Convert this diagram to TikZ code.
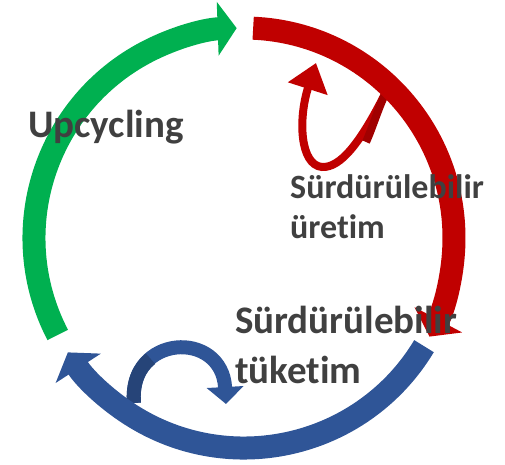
\documentclass[tikz,border=0pt]{standalone}
\usepackage{fontspec}
\setmainfont{Carlito}[Ligatures=NoCommon]
\usepackage{tikz}
\usetikzlibrary{arrows.meta}
\definecolor{cycgreen}{HTML}{00B050}
\definecolor{cycred}{HTML}{C00000}
\definecolor{cycblue}{HTML}{2F5597}
\definecolor{darkred}{HTML}{A00000}
\definecolor{darkblue}{HTML}{264478}
\definecolor{txtgray}{HTML}{404040}
\tikzstyle{bigarc}=[line width=23pt,-{Triangle[length=19pt,width=53pt]}]
\tikzstyle{loopred}=[line width=8pt,cycred,-{Triangle[length=27pt,width=40pt]}]
\tikzstyle{loopblue}=[line width=14pt,cycblue,-{Triangle[length=17pt,width=36pt]}]
\tikzstyle{txt}=[txtgray,inner sep=0pt,anchor=base west,align=left]

\begin{document}
\begin{tikzpicture}[x=1pt,y=1pt]
      \useasboundingbox (0,0) rectangle (505,464);
      \coordinate (c) at (244,226);
      % small loops inside the ring
      \coordinate (rs) at (386,372);
      \coordinate (rt) at (316,401);
      \draw[loopred] (rs) .. controls (360,320) and (340,296) .. (322,297)
            .. controls (300,299) and (298,345) .. (rt);
      \draw[line width=8pt,darkred] (rs) .. controls (378,355) and (372,335) .. (366,322);
      \coordinate (bs) at (134,61);
      \coordinate (bt) at (226,60);
      \draw[loopblue] (bs) .. controls (128,130) and (222,135) .. (bt);
      \draw[line width=14pt,darkblue] (bs) .. controls (132.2,81.7) and (139.4,96.6) .. (150.5,105.3);
      % the ring
      \draw[bigarc,cycgreen] ([shift={(207.5:210)}]c) arc[start angle=207.5,end angle=92,radius=210];
      \draw[bigarc,cycred] ([shift={(87.5:210)}]c) arc[start angle=87.5,end angle=-28,radius=210];
      \draw[bigarc,cycblue] ([shift={(-31:210)}]c) arc[start angle=-31,end angle=-147,radius=210];
      % texts (base = last line)
      \node[txt,font=\fontsize{39}{40}\selectfont\bfseries] (up) at (28,326) {Upcycling};
      \node[txt,font=\fontsize{34}{40}\selectfont\bfseries] (ur) at (290,226) {Sürdürülebilir\\üretim};
      \node[txt,font=\fontsize{39}{50}\selectfont\bfseries] (tk) at (235,81) {Sürdürülebilir\\tüketim};
\end{tikzpicture}
\end{document}
